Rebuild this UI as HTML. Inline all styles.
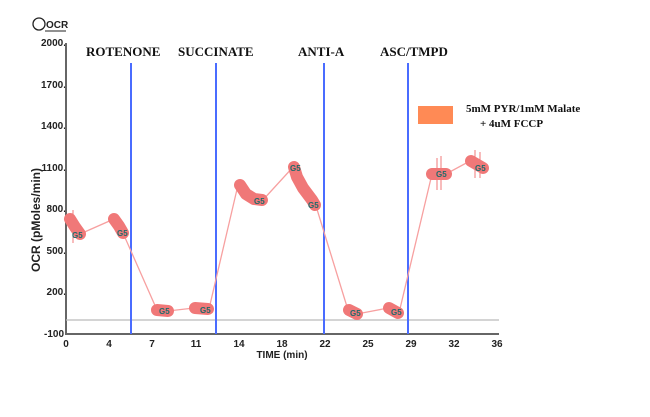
<!DOCTYPE html>
<html><head><style>body{margin:0;background:#fff}svg{display:block}</style></head><body>
<svg width="650" height="417" xmlns="http://www.w3.org/2000/svg" font-family="Liberation Sans, sans-serif">
<rect width="650" height="417" fill="#fff"/>
<circle cx="39" cy="24" r="6" fill="none" stroke="#222" stroke-width="1.3"/>
<text x="46" y="28" font-size="10" font-weight="bold" fill="#222">OCR</text>
<line x1="45" y1="31" x2="66" y2="31" stroke="#222"/>
<g font-size="10" font-weight="bold" fill="#222" text-anchor="end">
<text x="66" y="46">2000.</text><text x="66" y="88">1700.</text><text x="66" y="129">1400.</text><text x="66" y="171">1100.</text><text x="66" y="212">800.</text><text x="66" y="254">500.</text><text x="66" y="295">200.</text><text x="64" y="337">-100</text>
</g>
<text transform="translate(40,220) rotate(-90)" font-size="12" font-weight="bold" text-anchor="middle" fill="#222">OCR (pMoles/min)</text>
<line x1="66" y1="43" x2="66" y2="335" stroke="#666" stroke-width="2"/>
<line x1="66" y1="334" x2="499" y2="334" stroke="#666" stroke-width="2"/>
<line x1="66" y1="320" x2="499" y2="320" stroke="#bbb" stroke-width="1.2"/>
<g font-size="10" font-weight="bold" fill="#222" text-anchor="middle">
<text x="66" y="347">0</text><text x="109" y="347">4</text><text x="152" y="347">7</text><text x="196" y="347">11</text><text x="239" y="347">14</text><text x="282" y="347">18</text><text x="325" y="347">22</text><text x="368" y="347">25</text><text x="411" y="347">29</text><text x="454" y="347">32</text><text x="497" y="347">36</text>
<text x="282" y="358">TIME (min)</text>
</g>
<g stroke="#4a6cff" stroke-width="2">
<line x1="131" y1="63" x2="131" y2="334"/><line x1="216" y1="63" x2="216" y2="334"/><line x1="324" y1="63" x2="324" y2="334"/><line x1="408" y1="63" x2="408" y2="334"/>
</g>
<g font-family="Liberation Serif, serif" font-weight="bold" font-size="13" fill="#111">
<text x="86" y="56">ROTENONE</text><text x="178" y="56">SUCCINATE</text><text x="298" y="56">ANTI-A</text><text x="380" y="56">ASC/TMPD</text>
<text x="466" y="112" font-size="11">5mM PYR/1mM Malate</text>
<text x="480" y="127" font-size="11">+ 4uM FCCP</text>
</g>
<rect x="418" y="106" width="35" height="18" fill="#ff8a55"/>
<polyline points="75,226 80,234 114,219 123,233 157,310 168,311 194,308 209,309 238,185 262,201 294,166 316,206 348,310 357,314 388,308 399,313 432,174 446,174 470,161 484,168" fill="none" stroke="#f7a0a0" stroke-width="1.3"/>
<g fill="none" stroke="#f07878" stroke-width="12" stroke-linecap="round" stroke-linejoin="round">
<polyline points="70,219 75,227 80,234"/><polyline points="114,219 119,226 123,233"/>
<polyline points="157,310 168,311"/><polyline points="195,308 208,309"/>
<polyline points="240,185 246,194 254,199 262,200"/>
<polyline points="294,167 297,177 303,188 312,200 315,205"/>
<polyline points="349,310 357,314"/><polyline points="389,308 398,313"/>
<polyline points="432,174 446,174"/><polyline points="471,161 483,168"/>
</g>
<g stroke="#f07878" stroke-width="1"><line x1="437" y1="158" x2="437" y2="190"/><line x1="441" y1="156" x2="441" y2="190"/><line x1="475" y1="150" x2="475" y2="178"/><line x1="480" y1="152" x2="480" y2="178"/><line x1="73" y1="210" x2="73" y2="243"/></g>
<g font-size="8" font-weight="bold" fill="#1f6b6b">
<text x="72" y="238">G5</text><text x="117" y="236">G5</text><text x="159" y="314">G5</text><text x="200" y="313">G5</text><text x="254" y="204">G5</text><text x="308" y="208">G5</text><text x="350" y="316">G5</text><text x="391" y="315">G5</text><text x="436" y="177">G5</text><text x="475" y="171">G5</text><text x="290" y="171">G5</text>
</g>
</svg>
</body></html>
